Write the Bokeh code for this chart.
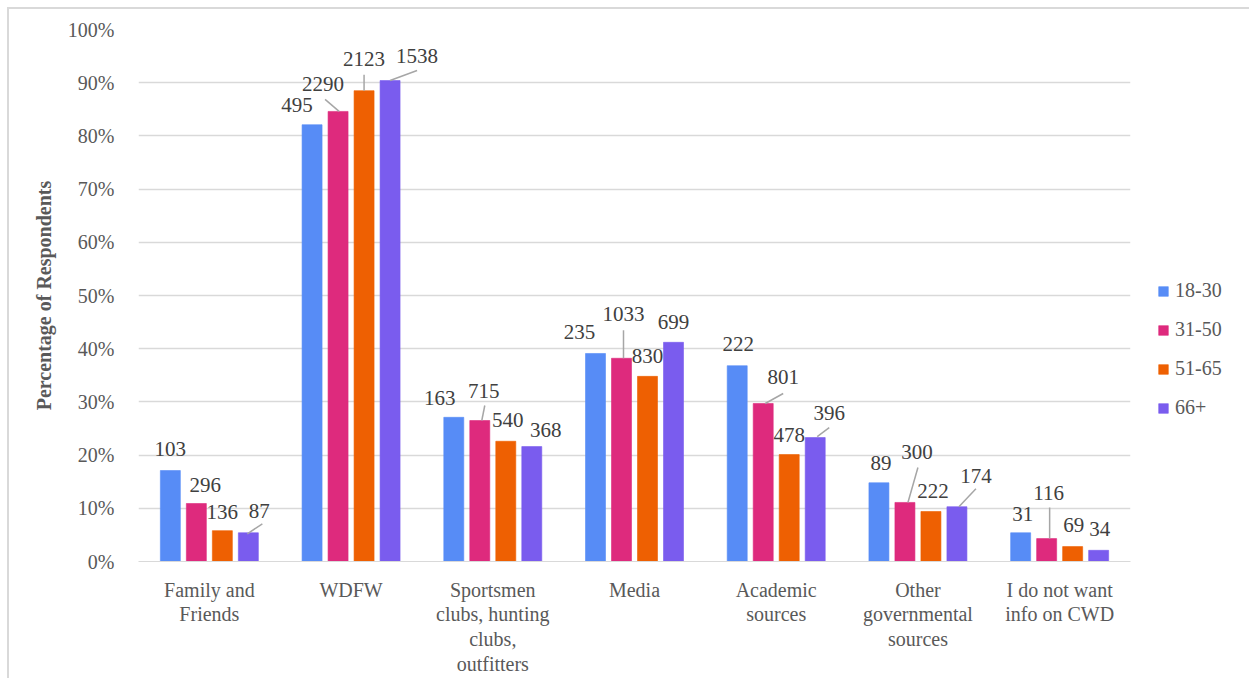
from bokeh.plotting import figure
from bokeh.models import ColumnDataSource, FixedTicker, Legend, LegendItem, Range1d
from bokeh.core.properties import value
from bokeh.embed import file_html
from bokeh.resources import INLINE

# ---------------- data ----------------
categories = ["Family and\nFriends", "WDFW", "Sportsmen\nclubs, hunting\nclubs,\noutfitters",
              "Media", "Academic\nsources", "Other\ngovernmental\nsources", "I do not want\ninfo on CWD"]
groups = ["18-30", "31-50", "51-65", "66+"]
pct_18_30 = [17.1, 82.1, 27.1, 39.1, 36.8, 14.8, 5.4]
pct_31_50 = [10.9, 84.6, 26.5, 38.2, 29.7, 11.1, 4.3]
pct_51_65 = [5.8, 88.5, 22.6, 34.8, 20.1, 9.4, 2.8]
pct_66_plus = [5.4, 90.4, 21.6, 41.2, 23.3, 10.3, 2.1]
n_18_30 = [103, 495, 163, 235, 222, 89, 31]
n_31_50 = [296, 2290, 715, 1033, 801, 300, 116]
n_51_65 = [136, 2123, 540, 830, 478, 222, 69]
n_66_plus = [87, 1538, 368, 699, 396, 174, 34]
y_ticks = [0, 10, 20, 30, 40, 50, 60, 70, 80, 90, 100]

# ---------------- styles / layout ----------------
colors = ["#578CF6", "#DE2A7D", "#EE6002", "#7A5CEE"]
FONT = "Liberation Serif"
FRAME_W, FRAME_H = 992, 532
PX_X = FRAME_W / len(categories)   # px per category unit
PX_Y = FRAME_H / 100.0             # px per percent
PITCH = 26 / PX_X
BAR_W = 20 / PX_X

# label offsets (dx px right, dy px up) from bar top center
label_offsets = [
    [(0, 22), (-15, 20), (-14, 19), (-16, 21), (1, 22), (2, 20), (2, 19)],
    [(9, 19), (-15, 27), (4, 30), (2, 44), (20, 26), (12, 50), (2, 46)],
    [(0, 19), (0, 32), (2, 21), (0, 20), (0, 20), (2, 20), (1, 22)],
    [(11, 22), (27, 25), (14, 17), (0, 20), (14, 25), (19, 31), (1, 21)],
]
# leader lines: (group, category, x0 px, up0 px, x1 px, up1 px) relative to bar top center
leaders = [
    (3, 0, -1, -1, 14, 9), (1, 1, -13, 12, 1, 0), (2, 1, 0, 16, 0, 0), (3, 1, 0, 0, 27, 10),
    (1, 2, 2, 0, 5, 15), (1, 3, 2, 28, 2, 0), (1, 4, 2, 0, 20, 10), (3, 4, 2, 1, 14, 10),
    (1, 5, 3, 0, 13, 35), (3, 5, 2, 0, 19, 18), (1, 6, 3, 31, 3, 0),
]

pcts = [pct_18_30, pct_31_50, pct_51_65, pct_66_plus]
counts = [n_18_30, n_31_50, n_51_65, n_66_plus]

p = figure(frame_width=FRAME_W, frame_height=FRAME_H, output_backend="svg", toolbar_location=None,
           x_range=Range1d(-0.5, len(categories) - 0.5), y_range=Range1d(0, 100),
           min_border_left=129, min_border_right=111, min_border_top=20, min_border_bottom=100)
p.styles = {"margin-left": "7px", "margin-top": "7px",
            "border-left": "2px solid #d9d9d9", "border-top": "2px solid #d9d9d9"}
p.outline_line_color = None
p.background_fill_color = "white"
p.border_fill_color = "white"

renderers = []
for g in range(len(groups)):
    xs = [c + (g - 1.5) * PITCH for c in range(len(categories))]
    src = ColumnDataSource(dict(x=xs, top=pcts[g], n=[str(v) for v in counts[g]],
                                dx=[o[0] for o in label_offsets[g]],
                                dy=[-o[1] for o in label_offsets[g]]))
    r = p.vbar(x="x", top="top", width=BAR_W, bottom=0, source=src,
               fill_color=colors[g], line_color=colors[g], line_alpha=0.6, line_width=1)
    renderers.append(r)
    p.text(x="x", y="top", text="n", x_offset="dx", y_offset="dy", source=src,
           text_font=value(FONT), text_font_size="21px", text_color="#404040",
           text_align="center", text_baseline="middle")

lx0, ly0, lx1, ly1 = [], [], [], []
for g, c, x0, u0, x1, u1 in leaders:
    bx = c + (g - 1.5) * PITCH
    top = pcts[g][c]
    lx0.append(bx + x0 / PX_X); ly0.append(top + u0 / PX_Y)
    lx1.append(bx + x1 / PX_X); ly1.append(top + u1 / PX_Y)
p.segment(x0=lx0, y0=ly0, x1=lx1, y1=ly1, line_color="#a6a6a6", line_width=1.5)

# axes
p.xaxis.ticker = FixedTicker(ticks=list(range(len(categories))))
p.xaxis.major_label_overrides = {i: c for i, c in enumerate(categories)}
p.xaxis.major_tick_line_color = None
p.xaxis.minor_tick_line_color = None
p.xaxis.axis_line_color = "#d9d9d9"
p.xaxis.major_label_text_font = FONT
p.xaxis.major_label_text_font_size = "20px"
p.xaxis.major_label_text_color = "#595959"
p.xaxis.major_label_text_line_height = 1.13
p.xaxis.major_label_standoff = 11

p.yaxis.ticker = FixedTicker(ticks=y_ticks)
p.yaxis.major_label_overrides = {t: f"{t}%" for t in y_ticks}
p.yaxis.major_tick_line_color = None
p.yaxis.minor_tick_line_color = None
p.yaxis.axis_line_color = None
p.yaxis.major_label_text_font = FONT
p.yaxis.major_label_text_font_size = "20px"
p.yaxis.major_label_text_color = "#595959"
p.yaxis.major_label_standoff = 18
p.yaxis.axis_label = "Percentage of Respondents"
p.yaxis.axis_label_text_font = FONT
p.yaxis.axis_label_text_font_size = "20px"
p.yaxis.axis_label_text_font_style = "bold"
p.yaxis.axis_label_text_color = "#595959"
p.yaxis.axis_label_standoff = 10

p.xgrid.grid_line_color = None
p.ygrid.grid_line_color = "#d9d9d9"
p.ygrid.grid_line_width = 1.5

legend = Legend(items=[LegendItem(label=groups[g], renderers=[renderers[g]]) for g in range(len(groups))],
                location=(27, 142), orientation="vertical",
                glyph_width=12, glyph_height=12, label_height=20, spacing=16,
                label_text_font=FONT, label_text_font_size="20px", label_text_color="#595959",
                label_standoff=6, padding=0, margin=0, border_line_color=None,
                background_fill_alpha=0)
p.add_layout(legend, "right")

open("out.html", "w").write(file_html(p, INLINE))
